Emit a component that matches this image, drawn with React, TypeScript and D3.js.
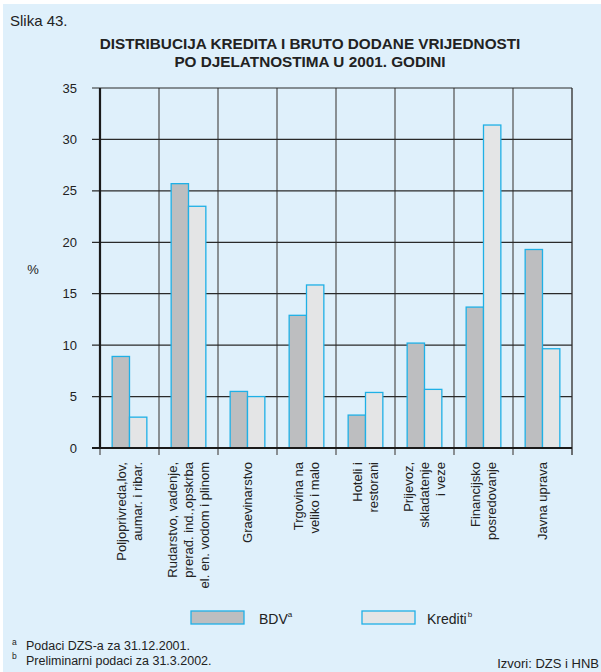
import React from "react";
import * as d3 from "d3";

const categories: string[][] = [
  ["Poljoprivreda,lov,", "aumar. i ribar."],
  ["Rudarstvo, vadenje,", "prerađ. ind.,opskrba", "el. en. vodom i plinom"],
  ["Graevinarstvo"],
  ["Trgovina na", "veliko i malo"],
  ["Hoteli i", "restorani"],
  ["Prijevoz,", "skladatenje", "i veze"],
  ["Financijsko", "posredovanje"],
  ["Javna uprava"],
];
const bdv = [8.9, 25.7, 5.5, 12.9, 3.2, 10.2, 13.7, 19.3];
const krediti = [3.0, 23.5, 5.0, 15.85, 5.4, 5.7, 31.4, 9.65];
const yTicks = [0, 5, 10, 15, 20, 25, 30, 35];
const seriesNames = ["BDV", "Krediti"];

const W = 601;
const H = 672;
const left = 100;
const right = 572;
const top = 88;
const bottom = 448;
const FONT = "'Liberation Sans', Arial, Helvetica, sans-serif";
const BG = "#dff0fb";
const C_BDV = "#bdbec0";
const C_KRED = "#e4e5e6";
const C_STROKE = "#1fb0e6";

export default function App() {
  const idx = categories.map((_, i) => String(i));
  const x0 = d3.scaleBand<string>().domain(idx).range([left, right]).padding(0);
  const x1 = d3
    .scaleBand<string>()
    .domain(seriesNames)
    .range([0, x0.bandwidth()])
    .paddingInner(0)
    .paddingOuter(0.7);
  const y = d3.scaleLinear().domain([0, 35]).range([bottom, top]);
  const boundaries = idx.map((k) => x0(k) as number).concat([right]);
  const values: Record<string, number[]> = { BDV: bdv, Krediti: krediti };
  const fills: Record<string, string> = { BDV: C_BDV, Krediti: C_KRED };

  return (
    <svg
      width={W}
      height={H}
      style={{ position: "absolute", left: 0, top: 0 }}
      fontFamily={FONT}
    >
      <rect x={0} y={0} width={W} height={H} fill="#ffffff" />
      <rect x={3} y={4} width={W - 3} height={H - 4} fill={BG} />

      <text x={10} y={26} fontSize={15} fill="#222">Slika 43.</text>
      <text x={310} y={49} fontSize={15.3} fontWeight="bold" textAnchor="middle" fill="#222">
        DISTRIBUCIJA KREDITA I BRUTO DODANE VRIJEDNOSTI
      </text>
      <text x={310} y={67} fontSize={15.3} fontWeight="bold" textAnchor="middle" fill="#222">
        PO DJELATNOSTIMA U 2001. GODINI
      </text>

      {/* vertical grid lines + ticks */}
      {boundaries.map((bx, i) => (
        <line
          key={"v" + i}
          x1={bx}
          x2={bx}
          y1={top}
          y2={bottom + 7}
          stroke={i === boundaries.length - 1 ? "#444" : "#6d6f71"}
          strokeWidth={1.5}
        />
      ))}
      {/* horizontal grid lines */}
      {yTicks.map((t) => (
        <g key={"h" + t}>
          <line x1={left - 8} x2={right} y1={y(t)} y2={y(t)} stroke="#2a2a2a" strokeWidth={1.2} />
          <text
            x={77}
            y={y(t)}
            dy="0.35em"
            fontSize={13}
            textAnchor="end"
            fill="#222"
          >
            {t}
          </text>
        </g>
      ))}
      <text x={33} y={274} fontSize={13} textAnchor="middle" fill="#222">%</text>

      {/* bars */}
      {idx.map((k, i) => (
        <g key={"g" + k} transform={`translate(${x0(k)},0)`}>
          {seriesNames.map((s) => {
            const v = values[s][i];
            return (
              <rect
                key={s}
                x={x1(s)}
                y={y(v)}
                width={x1.bandwidth()}
                height={y(0) - y(v)}
                fill={fills[s]}
                stroke={C_STROKE}
                strokeWidth={1.3}
              />
            );
          })}
        </g>
      ))}

      {/* axes */}
      <line x1={left} x2={left} y1={top} y2={bottom + 1} stroke="#1a1a1a" strokeWidth={2.2} />
      <line x1={left - 8} x2={right} y1={bottom} y2={bottom} stroke="#1a1a1a" strokeWidth={2.2} />

      {/* category labels */}
      {idx.map((k, i) => {
        const cx = (x0(k) as number) + x0.bandwidth() / 2;
        const lines = categories[i];
        return lines.map((ln, j) => {
          const lx = cx + (j - (lines.length - 1) / 2) * 16;
          return (
            <text
              key={k + "-" + j}
              transform={`translate(${lx},462) rotate(-90)`}
              textAnchor="end"
              dominantBaseline="central"
              fontSize={13}
              fill="#222"
            >
              {ln}
            </text>
          );
        });
      })}

      {/* legend */}
      <rect x={191} y={611} width={53} height={13} fill={C_BDV} stroke={C_STROKE} strokeWidth={1.3} />
      <text x={259} y={624} fontSize={14} fill="#222">
        BDV
        <tspan fontSize={8} dy={-7}>a</tspan>
      </text>
      <rect x={362} y={611} width={53} height={13} fill={C_KRED} stroke={C_STROKE} strokeWidth={1.3} />
      <text x={427} y={624} fontSize={14} fill="#222">
        Krediti
        <tspan fontSize={8} dy={-7} dx={1}>b</tspan>
      </text>

      {/* footnotes */}
      <text x={12} y={645} fontSize={8.5} fill="#222">a</text>
      <text x={26} y={650} fontSize={12.5} fill="#222">Podaci DZS-a za 31.12.2001.</text>
      <text x={12} y={659} fontSize={8.5} fill="#222">b</text>
      <text x={26} y={665} fontSize={12.5} fill="#222">Preliminarni podaci za 31.3.2002.</text>
      <text x={599} y={668} fontSize={13} textAnchor="end" fill="#222">Izvori: DZS i HNB</text>
    </svg>
  );
}
